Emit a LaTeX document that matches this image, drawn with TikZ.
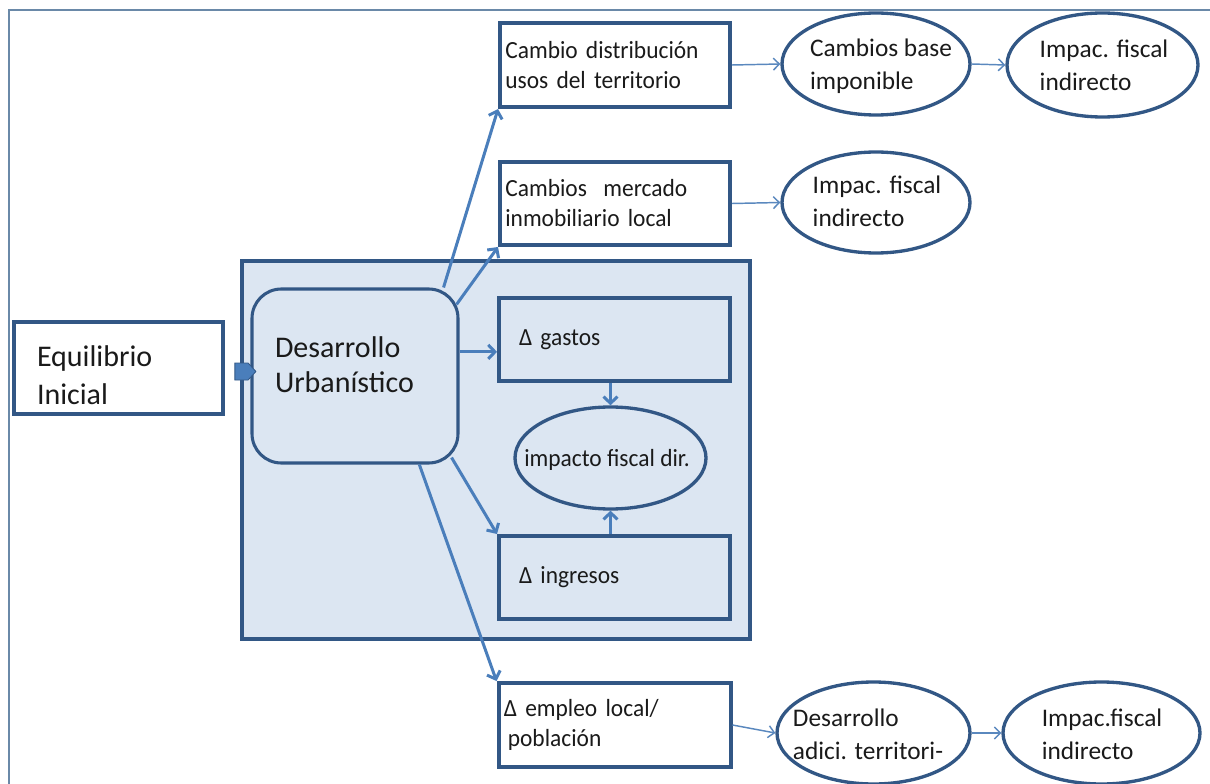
\documentclass[tikz,border=0pt]{standalone}
\usepackage{fontspec}
\setmainfont{Carlito}
\newfontfamily\condfont{Carlito}[FakeStretch=0.95]
\newcommand\boxtextfont{\condfont\fontsize{18.5}{22.5}\selectfont\spaceskip=4pt\relax}
\usetikzlibrary{arrows.meta,shapes.geometric,shapes.arrows,calc}
\definecolor{framec}{HTML}{6A89A8}
\definecolor{navy}{HTML}{325785}
\definecolor{lightfill}{HTML}{DCE6F2}
\definecolor{arrowblue}{HTML}{4A7EBB}
\definecolor{thinblue}{HTML}{5A88BE}
\definecolor{txt}{HTML}{1A1A1A}
\begin{document}
\begin{tikzpicture}[x=0.75pt,y=-0.75pt,
  every node/.style={text=txt},
  sqbox/.style={draw=navy, line width=3pt, rectangle, fill=white, align=left, inner ysep=0pt},
  smalltxt/.style={font=\boxtextfont},
  bigtxt/.style={font=\fontsize{22.5}{28.5}\selectfont},
  elltxt/.style={font=\fontsize{19}{24.75}\selectfont, align=left, inner sep=0pt},
  ell/.style={draw=navy, line width=2.5pt, ellipse, fill=white, inner sep=0pt},
  thick arrow/.style={draw=arrowblue, line width=2.25pt, -{Straight Barb[length=5pt,width=10.5pt]}},
  thin arrow/.style={draw=thinblue, line width=1.1pt, -{Straight Barb[length=4.5pt,width=9pt]}}
]
\useasboundingbox (0,0) rectangle (1210,784);
% outer frame
\draw[framec, line width=1.6pt] (9,790) -- (9,10) -- (1215,10);

% big shaded box
\node[draw=navy, line width=3.4pt, fill=lightfill, rectangle, minimum width=381pt, minimum height=283.5pt, inner sep=0pt] (bb) at (496,450) {};

% initial equilibrium
\node[sqbox, bigtxt, minimum width=156.75pt, minimum height=69pt, inner xsep=17.25pt, text width=122.25pt] (eq) at (118.5,368) {\rule{0pt}{26pt}Equilibrio\\Inicial};

% desarrollo urbanistico
\node[draw=navy, line width=2.3pt, fill=lightfill, rectangle, rounded corners=22pt, font=\fontsize{22.5}{26.25}\selectfont, align=left, minimum width=154.5pt, minimum height=130.5pt, inner xsep=17.25pt, text width=120pt] (ur) at (355,376) {Desarrollo\\Urbanístico\rule[-17pt]{0pt}{1pt}};

% block arrow between them
\node[single arrow, draw=navy, line width=0.6pt, fill=arrowblue, inner sep=0pt, minimum height=15.75pt, minimum width=12.75pt, single arrow head extend=0pt, single arrow tip angle=95] (ba) at (241.5,371.5) {};

% inner boxes
\node[sqbox, fill=lightfill, smalltxt, minimum width=173.25pt, minimum height=62.25pt, inner xsep=15pt, text width=143.25pt] (dg) at (614.5,339.5) {Δ gastos};
\node[sqbox, fill=lightfill, smalltxt, minimum width=173.25pt, minimum height=62.25pt, inner xsep=15pt, text width=143.25pt] (di) at (614.5,577.5) {Δ ingresos};
\node[ell, fill=lightfill, minimum width=143.25pt, minimum height=76.5pt] (ie) at (610.5,458) {};
\node[elltxt, smalltxt] (iet) at (607,460) {impacto fiscal dir.};

% upper and lower boxes
\node[sqbox, smalltxt, minimum width=172.5pt, minimum height=63pt, inner xsep=4pt, text width=164.5pt] (cd) at (615,65) {Cambio distribución\\usos del territorio};
\node[sqbox, smalltxt, minimum width=172.5pt, minimum height=62.25pt, inner xsep=4pt, text width=164.5pt] (cm) at (615,203.5) {Cambios~ mercado\\inmobiliario local};
\node[sqbox, smalltxt, minimum width=174pt, minimum height=63pt, inner xsep=4pt, text width=166pt] (de) at (614.5,725) {Δ empleo local/\\\hspace*{3pt}población};

% ellipses
\node[ell, minimum width=141pt, minimum height=76.5pt] (cb) at (876,64) {};
\node[elltxt] (cbt) at (881,66) {Cambios base\\imponible};
\node[ell, minimum width=143.25pt, minimum height=78pt] (if1) at (1102.5,65) {};
\node[elltxt] (if1t) at (1104,65) {Impac. fiscal\\indirecto};
\node[ell, minimum width=141pt, minimum height=75.75pt] (if2) at (876,202.5) {};
\node[elltxt] (if2t) at (877,201) {Impac. fiscal\\indirecto};
\node[ell, minimum width=144.75pt, minimum height=76.5pt] (da) at (873.5,733) {};
\node[elltxt] (dat) at (868,734) {Desarrollo\\adici. territori-};
\node[ell, minimum width=147.75pt, minimum height=76.5pt] (if3) at (1101.5,733) {};
\node[elltxt] (if3t) at (1102,734) {Impac.fiscal\\indirecto};

% thick connectors
\draw[thick arrow] (ur.45) -- (cd.south west);
\draw[thick arrow] ($(ur.north east)+(-3,17)$) -- (cm.south west);
\draw[thick arrow] (ur.13) -- (ur.13 -| dg.west);
\draw[thick arrow] ($(ur.south east)+(-8,-7)$) -- (di.north west);
\draw[thick arrow] (ur.-54) -- (de.north west);
\draw[thick arrow] (ie.north |- dg.south) -- (ie.north);
\draw[thick arrow] (ie.south |- di.north) -- (ie.south);

% thin connectors
\draw[thin arrow] (cd.east) -- (cb.west);
\draw[thin arrow] (cb.east) -- (if1.west);
\draw[thin arrow] (cm.east) -- (if2.west);
\draw[thin arrow] (de.east) -- (da.west);
\draw[thin arrow] (da.east) -- (if3.west);
\end{tikzpicture}
\end{document}
